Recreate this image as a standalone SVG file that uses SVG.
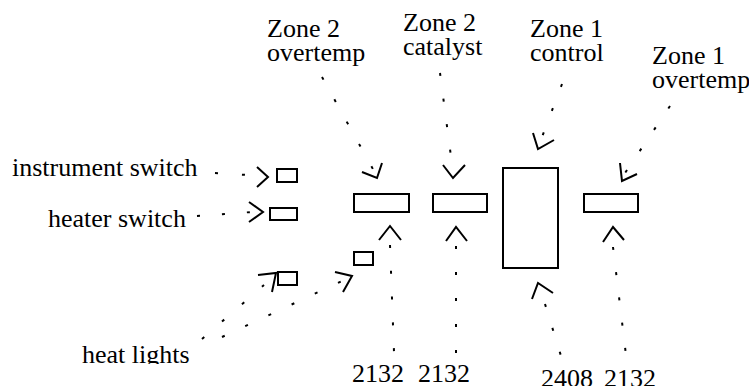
<svg xmlns="http://www.w3.org/2000/svg" width="749" height="386" viewBox="0 0 749 386">
<style>
text{font-family:"Liberation Serif","Times New Roman",serif;font-size:26px;fill:#000}
.box{fill:#fff;stroke:#000;stroke-width:2}
.dash{fill:none;stroke:#000;stroke-width:2}
.head{fill:none;stroke:#000;stroke-width:2;stroke-linejoin:miter}
</style>
<defs>
<clipPath id="clipHL"><rect x="0" y="0" width="749" height="364"/></clipPath>
</defs>
<rect width="749" height="386" fill="#fff"/>
<g id="instrument-switch-label"><text x="12" y="176">instrument switch</text></g>
<g id="heater-switch-label"><text x="48" y="227">heater switch</text></g>
<g id="heat-lights-label" clip-path="url(#clipHL)"><text x="82" y="363">heat lights</text></g>
<g id="zone2-overtemp-label"><text x="267" y="37">Zone 2</text><text x="267" y="61">overtemp</text></g>
<g id="zone2-catalyst-label"><text x="403" y="31">Zone 2</text><text x="403" y="55">catalyst</text></g>
<g id="zone1-control-label"><text x="530" y="37">Zone 1</text><text x="530" y="61">control</text></g>
<g id="zone1-overtemp-label"><text x="652" y="64">Zone 1</text><text x="652" y="88">overtemp</text></g>
<g id="num-a"><text x="352" y="382">2132</text></g>
<g id="num-b"><text x="418" y="382">2132</text></g>
<g id="num-tall"><text x="541" y="387">2408</text></g>
<g id="num-d"><text x="604" y="387">2132</text></g>
<g id="instrument-switch"><rect class="box" x="277" y="169" width="20" height="13"/></g>
<g id="heater-switch"><rect class="box" x="270" y="208" width="27" height="12"/></g>
<g id="heat-light-1"><rect class="box" x="278" y="272" width="19" height="13"/></g>
<g id="heat-light-2"><rect class="box" x="354" y="252" width="19" height="13"/></g>
<g id="zone2-overtemp"><rect class="box" x="354" y="194" width="55" height="18"/></g>
<g id="zone2-catalyst"><rect class="box" x="433" y="194" width="54" height="18"/></g>
<g id="zone1-control"><rect class="box" x="503" y="168" width="55" height="100"/></g>
<g id="zone1-overtemp"><rect class="box" x="584" y="194" width="54" height="18"/></g>
<g id="connectors">
<path class="dash" d="M215,173 L248,175" stroke-dasharray="3 24"/>
<polyline class="head" points="257,167 268,177 257,187"/>
<path class="dash" d="M197,216 L252,212" stroke-dasharray="3 22"/>
<polyline class="head" points="249,202 263,212 249,222"/>
<path class="dash" d="M202,339 L264,285" stroke-dasharray="3 23.5"/>
<polyline class="head" points="258,275 276,273 272,292"/>
<path class="dash" d="M222,337 L342,281" stroke-dasharray="3 22.6"/>
<polyline class="head" points="335,272 352,276 343,292"/>
<path class="dash" d="M322,77 L374,171" stroke-dasharray="3 22.5"/>
<polyline class="head" points="362,172 377,178 382,163"/>
<path class="dash" d="M440,73 L450.5,153" stroke-dasharray="3 22.8"/>
<polyline class="head" points="443,165 453,178 465,165"/>
<path class="dash" d="M562,84 L542,137" stroke-dasharray="3 22.8"/>
<polyline class="head" points="533,133 538,149 554,140"/>
<path class="dash" d="M670,106 L625,173" stroke-dasharray="3 22.7"/>
<polyline class="head" points="620,163 622,181 637,174"/>
<path class="dash" d="M390,245 L394,352" stroke-dasharray="3 22.8"/>
<polyline class="head" points="379,240 390,226 401,240"/>
<path class="dash" d="M456,246 L456,353" stroke-dasharray="3 23"/>
<polyline class="head" points="446,241 456,227 467,241"/>
<path class="dash" d="M545,304 L561,356" stroke-dasharray="3 22"/>
<polyline class="head" points="532,299 538,283 553,293"/>
<path class="dash" d="M613,247 L625.5,351" stroke-dasharray="3 22.4"/>
<polyline class="head" points="603,242 613,227 624,240"/>
</g>
</svg>
